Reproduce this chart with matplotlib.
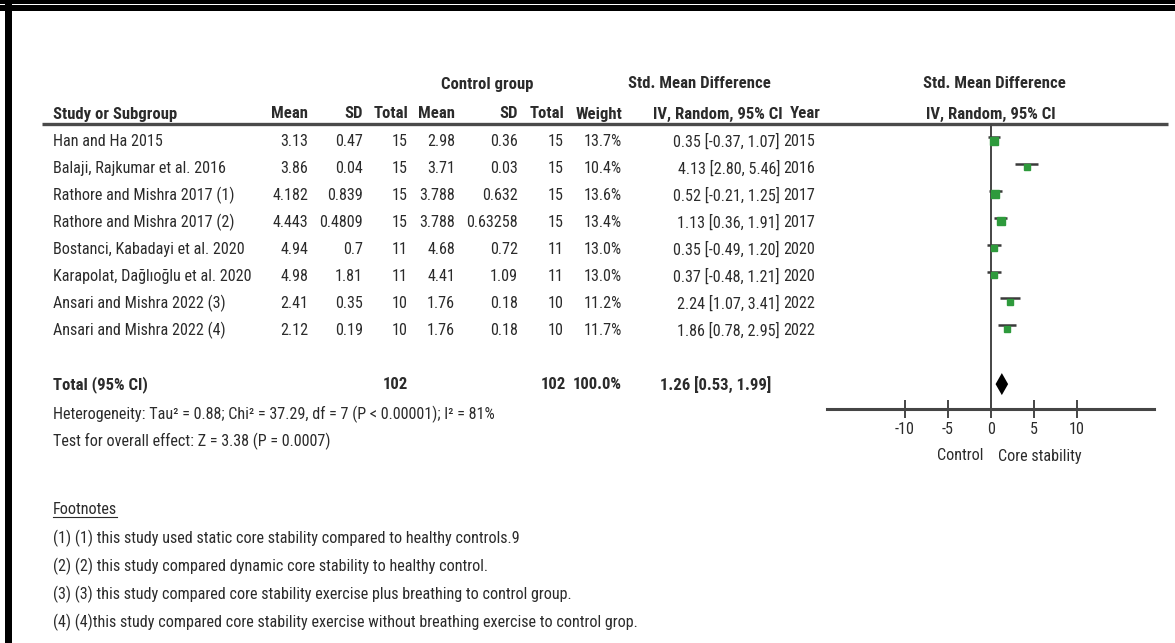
import matplotlib
matplotlib.use("Agg")
import matplotlib.pyplot as plt
from matplotlib import font_manager
from matplotlib.patches import Rectangle, Polygon
from matplotlib.textpath import TextPath
from matplotlib.font_manager import FontProperties

# ---------------------------------------------------------------- data
studies = [
    "Han and Ha 2015",
    "Balaji, Rajkumar et al. 2016",
    "Rathore and Mishra 2017 (1)",
    "Rathore and Mishra 2017 (2)",
    "Bostanci, Kabadayi et al. 2020",
    "Karapolat, Dağlıoğlu et al. 2020",
    "Ansari and Mishra 2022 (3)",
    "Ansari and Mishra 2022 (4)",
]
exp_mean = [3.13, 3.86, 4.182, 4.443, 4.94, 4.98, 2.41, 2.12]
exp_sd = [0.47, 0.04, 0.839, 0.4809, 0.7, 1.81, 0.35, 0.19]
exp_n = [15, 15, 15, 15, 11, 11, 10, 10]
ctl_mean = [2.98, 3.71, 3.788, 3.788, 4.68, 4.41, 1.76, 1.76]
ctl_sd = [0.36, 0.03, 0.632, 0.63258, 0.72, 1.09, 0.18, 0.18]
ctl_n = [15, 15, 15, 15, 11, 11, 10, 10]
weights = [13.7, 10.4, 13.6, 13.4, 13.0, 13.0, 11.2, 11.7]
smd = [0.35, 4.13, 0.52, 1.13, 0.35, 0.37, 2.24, 1.86]
ci_low = [-0.37, 2.80, -0.21, 0.36, -0.49, -0.48, 1.07, 0.78]
ci_high = [1.07, 5.46, 1.25, 1.91, 1.20, 1.21, 3.41, 2.95]
years = [2015, 2016, 2017, 2017, 2020, 2020, 2022, 2022]

total_exp_n = 102
total_ctl_n = 102
total_weight = 100.0
pooled = 1.26
pooled_low = 0.53
pooled_high = 1.99

heterogeneity = "Heterogeneity: Tau\u00b2 = 0.88; Chi\u00b2 = 37.29, df = 7 (P < 0.00001); I\u00b2 = 81%"
overall_test = "Test for overall effect: Z = 3.38 (P = 0.0007)"
footnotes = [
    "(1) (1) this study used static core stability compared to healthy controls.9",
    "(2) (2) this study compared dynamic core stability to healthy control.",
    "(3) (3) this study compared core stability exercise plus breathing to control group.",
    "(4) (4)this study compared core stability exercise without breathing exercise to control grop.",
]
axis_ticks = [-10, -5, 0, 5, 10]
favours_left = "Control"
favours_right = "Core stability"

# ---------------------------------------------------------------- fonts
W, H, DPI = 1175, 643, 100
available = {f.name for f in font_manager.fontManager.ttflist}
FAMILY = "Liberation Sans"
for cand in ["Liberation Sans Narrow", "Arial Narrow", "Roboto Condensed",
             "Archivo Narrow", "PT Sans Narrow", "Fira Sans Condensed"]:
    if cand in available:
        FAMILY = cand
        break
plt.rcParams["font.family"] = [FAMILY, "Liberation Sans", "DejaVu Sans"]
plt.rcParams["axes.unicode_minus"] = False

# size the body font so the widest study label spans ~197 px
_probe = TextPath((0, 0), studies[5], size=10, prop=FontProperties(family=FAMILY))
_w10 = _probe.get_extents().width * DPI / 72.0
FS = min(13.0, 10.0 * 197.0 / _w10)
FSB = FS * 1.04

TXT = "#2b2b2b"
GREEN = "#2e9a3c"
LINE = "#3a3a3a"

ROW0, STEP = 142.0, 26.9          # first study row and row pitch (pixels)
TOTAL_ROW = len(studies) + 1

def row_y(i):
    return ROW0 + STEP * i

fig = plt.figure(figsize=(W / DPI, H / DPI), dpi=DPI)
fig.patch.set_facecolor("white")
ax = fig.add_axes([0, 0, 1, 1])
ax.set_xlim(0, W)
ax.set_ylim(H, 0)
ax.axis("off")

# frame
ax.add_patch(Rectangle((0, 0), W, 4, color="black", lw=0))
ax.add_patch(Rectangle((0, 5), W, 6, color="black", lw=0))
ax.add_patch(Rectangle((5, 0), 7, H, color="black", lw=0))

def put(x, y, s, ha="right", bold=False, size=None):
    if size is None:
        size = FSB if bold else FS
    return ax.text(x, y, s, ha=ha, va="center", fontsize=size, color=TXT,
                   fontweight="bold" if bold else "normal")

# column anchors (right edges)
X_NAME = 53
X_EM, X_ESD, X_EN = 308, 363, 408
X_CM, X_CSD, X_CN = 455, 518, 564
X_W, X_CI, X_YR = 622, 780, 815

# header
HY1, HY2 = 84, 114
put(487, HY1, "Control group", ha="center", bold=True)
put(699, HY1, "Std. Mean Difference", ha="center", bold=True)
put(994, HY1, "Std. Mean Difference", ha="center", bold=True)
put(X_NAME, HY2, "Study or Subgroup", ha="left", bold=True)
for x, s in [(X_EM, "Mean"), (X_ESD, "SD"), (X_EN, "Total"), (X_CM, "Mean"),
             (X_CSD, "SD"), (X_CN, "Total"), (X_W, "Weight"),
             (783, "IV, Random, 95% CI")]:
    put(x, HY2, s, bold=True)
put(790, HY2, "Year", ha="left", bold=True)
put(991, HY2, "IV, Random, 95% CI", ha="center", bold=True)
ax.plot([42, 1168], [124, 124], color="#4a4a4a", lw=2.4, solid_capstyle="butt")

# study rows
for i, name in enumerate(studies):
    y = row_y(i)
    put(X_NAME, y, name, ha="left")
    put(X_EM, y, str(exp_mean[i]))
    put(X_ESD, y, str(exp_sd[i]))
    put(X_EN, y, str(exp_n[i]))
    put(X_CM, y, str(ctl_mean[i]))
    put(X_CSD, y, str(ctl_sd[i]))
    put(X_CN, y, str(ctl_n[i]))
    put(X_W, y, f"{weights[i]:.1f}%")
    put(X_CI, y, f"{smd[i]:.2f} [{ci_low[i]:.2f}, {ci_high[i]:.2f}]")
    put(X_YR, y, str(years[i]))

# total row
ty = row_y(TOTAL_ROW)
put(X_NAME, ty, "Total (95% CI)", ha="left", bold=True)
put(X_EN, ty, str(total_exp_n), bold=True)
put(566, ty, str(total_ctl_n), bold=True)
put(X_W, ty, f"{total_weight:.1f}%", bold=True)
put(771, ty, f"{pooled:.2f} [{pooled_low:.2f}, {pooled_high:.2f}]", bold=True)

put(X_NAME, 414, heterogeneity, ha="left")
put(X_NAME, 441, overall_test, ha="left")

# footnotes
fn = put(X_NAME, 510, "Footnotes", ha="left")
fig.canvas.draw()
bb = fn.get_window_extent().transformed(ax.transData.inverted())
ax.plot([bb.x0, bb.x1], [bb.y0 - 1, bb.y0 - 1], color=TXT, lw=0.8)
for k, s in enumerate(footnotes):
    put(X_NAME, 538 + 28 * k, s, ha="left")

# ---------------------------------------------------------------- forest panel
ZERO_PX, PX_PER_UNIT = 991.0, 8.6
LEFT_PX, RIGHT_PX, TOP_PX, AXIS_PX = 827, 1154, 124, 409
fx = fig.add_axes([LEFT_PX / W, 1 - AXIS_PX / H, (RIGHT_PX - LEFT_PX) / W, (AXIS_PX - TOP_PX) / H])
fx.set_xlim((LEFT_PX - ZERO_PX) / PX_PER_UNIT, (RIGHT_PX - ZERO_PX) / PX_PER_UNIT)
fx.set_ylim((AXIS_PX - ROW0) / STEP, (TOP_PX - ROW0) / STEP)
fx.patch.set_alpha(0)
for side in ("top", "left", "right"):
    fx.spines[side].set_visible(False)
fx.spines["bottom"].set_color("#454545")
fx.spines["bottom"].set_linewidth(2.2)
fx.set_yticks([])
fx.set_xticks(axis_ticks)
fx.set_xticklabels([str(t) for t in axis_ticks], fontsize=FS, color=TXT)
fx.tick_params(axis="x", direction="inout", length=13, width=1.4, colors="#454545",
               labelcolor=TXT, pad=3)

fx.axvline(0, color="#454545", lw=1.4)

rows = [i - 5.0 / STEP for i in range(len(studies))]
fx.hlines(rows, ci_low, ci_high, color=LINE, lw=1.8)
for i in range(len(studies)):
    fx.plot(smd[i], i - 1.5 / STEP, marker="s", ls="", color=GREEN, mec=GREEN,
            ms=weights[i] * 0.38)

dh = 11.0 / STEP
fx.add_patch(Polygon([(pooled_low, TOTAL_ROW), (pooled, TOTAL_ROW - dh),
                      (pooled_high, TOTAL_ROW), (pooled, TOTAL_ROW + dh)],
                     closed=True, color="black", lw=0))

put(983, 456, favours_left, ha="right")
put(998, 456, favours_right, ha="left")

fig.savefig("out.png", dpi=DPI, facecolor="white")
